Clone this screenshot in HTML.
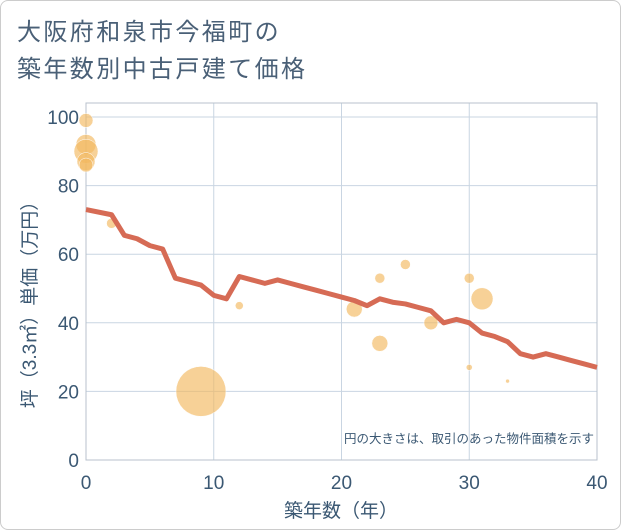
<!DOCTYPE html>
<html><head><meta charset="utf-8"><style>
body{margin:0;background:#fff}
#wrap{position:relative;width:619px;height:528px;border:1px solid #ccc;border-radius:8px;overflow:hidden;font-family:"Liberation Sans","Noto Sans CJK JP",sans-serif;color:#3b5873}
#title{position:absolute;left:16px;top:13px;font-size:24px;letter-spacing:2.4px;line-height:37px;color:#4a6077}
</style></head><body>
<div id="wrap">
<div id="title">大阪府和泉市今福町の<br>築年数別中古戸建て価格</div>
<svg id="chart" width="621" height="530" style="position:absolute;left:-1px;top:-1px"></svg>
</div>
<script>
const xTicks=[0,10,20,30,40];
const yTicks=[0,20,40,60,80,100];
const lineYears=[0,2,3,4,5,6,7,8,9,10,11,12,13,14,15,16,17,18,19,20,21,22,23,24,25,26,27,28,29,30,31,32,33,34,35,36,37,38,39,40];
const lineValues=[73,71.5,65.5,64.5,62.5,61.5,53,52,51,48,47,53.5,52.5,51.5,52.5,51.5,50.5,49.5,48.5,47.5,46.5,45,47,46,45.5,44.5,43.5,40,41,40,37,36,34.5,31,30,31,30,29,28,27];
const bubbleYears=[0,0,0,0,0,2,9,12,21,23,23,25,27,30,31,30,33];
const bubbleValues=[99,92,90,87,86,69,20,45,44,53,34,57,40,53,47,27,23];
const bubbleSizes=[7,10,12,9,7,5,25,4,8,5,8,5,7,5,11,3,2];
const NS='http://www.w3.org/2000/svg';
const svg=document.getElementById('chart');
const L=86,R=597,T=103,B=460;
const xs=v=>L+(v/40)*(R-L);
const ys=v=>B-(v/100)*(B-117);
function mk(tag,attrs){const e=document.createElementNS(NS,tag);for(const k in attrs)e.setAttribute(k,attrs[k]);svg.appendChild(e);return e;}
xTicks.forEach(t=>{
 const g=mk('line',{x1:xs(t),x2:xs(t),y1:T,y2:B,stroke:'#c9d5e2','stroke-width':1});
 
 
 const tx=mk('text',{x:xs(t),y:489,'text-anchor':'middle','font-size':19,fill:'#3b5873'});
 tx.textContent=t;
 
 
});
yTicks.forEach(t=>{
 const g=mk('line',{x1:L,x2:R,y1:ys(t),y2:ys(t),stroke:'#c9d5e2','stroke-width':1});
 
 
 const tx=mk('text',{x:79,y:ys(t)+7,'text-anchor':'end','font-size':19,fill:'#3b5873'});
 tx.textContent=t;
 
 
});
const frame=mk('rect',{x:L,y:T,width:R-L,height:B-T,fill:'none',stroke:'#b8c2cc','stroke-width':1});


bubbleYears.forEach((yr,i)=>{
 const c=mk('circle',{cx:xs(yr),cy:ys(bubbleValues[i]),r:bubbleSizes[i],fill:'#f2b85f','fill-opacity':0.65,stroke:'#fff','stroke-width':0.5});
 
 
});
const p=mk('polyline',{points:lineYears.map((y,i)=>xs(y)+','+ys(lineValues[i])).join(' '),fill:'none',stroke:'#d66b55','stroke-width':5,'stroke-linejoin':'round'});


const note=mk('text',{x:594,y:443,'text-anchor':'end','font-size':12.5,fill:'#3b5873'});
note.textContent='円の大きさは、取引のあった物件面積を示す';


const xt=mk('text',{x:341,y:517,'text-anchor':'middle','font-size':19,fill:'#3b5873'});
xt.textContent='築年数（年）';


const yt=mk('text',{x:0,y:0,'text-anchor':'middle','font-size':19,fill:'#3b5873',transform:'translate(36,300) rotate(-90)'});
yt.textContent='坪（3.3㎡）単価（万円）';


</script>
</body></html>
